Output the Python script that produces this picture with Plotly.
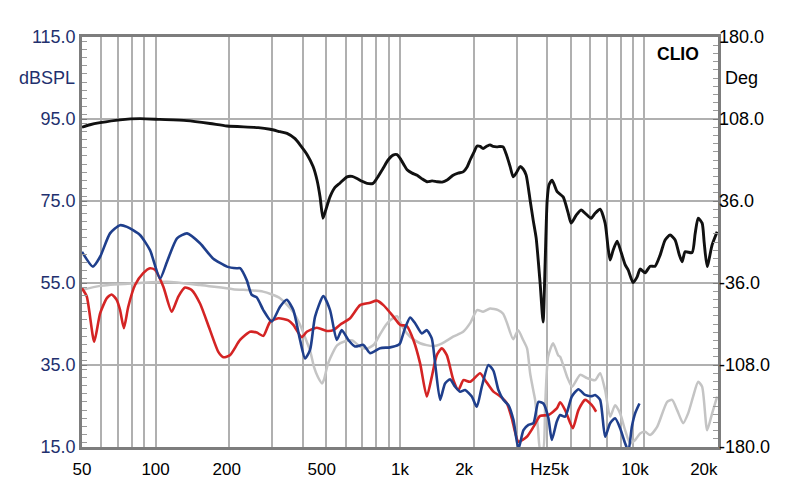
import plotly.graph_objects as go

# ---------------- data ----------------
black_f = [50, 53.9, 59.3, 71.5, 86.3, 104, 134, 167, 196, 263, 294, 323, 345, 372, 390, 417, 441, 458,
           471, 484, 498, 517, 542, 569, 607, 637, 667, 700, 733, 776, 806, 853, 894, 937, 973, 1001,
           1039, 1069, 1121, 1175, 1231, 1291, 1353, 1418, 1487, 1559, 1649, 1729, 1813, 1882, 1936,
           2010, 2068, 2127, 2188, 2272, 2337, 2404, 2496, 2568, 2642, 2717, 2822, 2903, 2987, 3101,
           3190, 3282, 3407, 3505, 3606, 3743, 3850, 3925, 4001, 4074, 4191, 4394, 4650, 4874, 5013,
           5255, 5508, 5773, 6053, 6285, 6588, 6905, 7104, 7239, 7447, 7733, 8030, 8337, 8577, 8991,
           9336, 9604, 10067, 10552, 11061, 11595, 12154, 12740, 13354, 13869, 14265, 14674, 15674,
           16124, 16587, 17223, 17551, 18055, 18923, 19837]
black_db = [93.0, 93.6, 94.1, 94.8, 95.1, 94.9, 94.6, 93.9, 93.3, 92.9, 92.5, 91.9, 91.5, 90.2, 88.7, 86.3,
            83.4, 80.0, 76.0, 70.8, 73.0, 76.0, 78.3, 79.4, 80.9, 81.0, 80.5, 79.8, 79.3, 79.3, 80.6,
            83.0, 85.0, 86.2, 86.3, 85.4, 83.8, 82.6, 81.8, 81.3, 80.4, 79.7, 79.9, 79.7, 79.6, 80.1,
            81.3, 81.8, 82.1, 83.3, 85.0, 87.0, 88.4, 88.3, 87.8, 88.4, 88.7, 88.3, 88.2, 88.3, 88.2,
            86.5, 83.4, 80.9, 81.8, 83.4, 82.8, 81.3, 75.2, 70.4, 66.0, 55.0, 45.5, 60.0, 75.2, 79.0,
            80.1, 77.3, 76.0, 72.1, 69.6, 71.5, 72.8, 71.8, 70.8, 72.0, 73.0, 69.6, 63.5, 60.6, 63.0,
            65.2, 62.5, 59.5, 58.2, 55.1, 56.5, 58.4, 57.5, 59.1, 59.1, 61.8, 65.5, 66.7, 65.5, 62.0,
            60.2, 62.6, 62.4, 67.0, 70.8, 69.6, 65.0, 59.0, 64.3, 67.5]

gray_f = [50, 59.3, 80.9, 111.4, 152, 207.4, 275.2, 323, 365.1, 390, 416.6, 428.6, 445, 462, 479.9, 489,
          503.5, 517, 552.7, 596, 637, 686.5, 733, 783, 829, 877, 911, 973, 1030, 1100, 1208.5, 1366,
          1487, 1649, 1813, 1936, 2068, 2188, 2337, 2520, 2642, 2743, 2903, 3043, 3190, 3312, 3407,
          3505, 3571, 3674, 3743, 3850, 3925, 4036, 4231, 4435, 4520, 4828, 5060, 5456, 5828, 6285,
          6588, 6905, 7239, 7588, 7954, 8337, 8740, 9161, 9604, 10067, 10552, 11272, 12386, 12982,
          13609, 14401, 15095, 15823, 16587, 17223, 18055, 18923, 19837]
gray_db = [53.3, 54.3, 54.9, 55.3, 54.5, 53.5, 52.9, 51.3, 48.0, 44.8, 40.5, 38.5, 34.5, 32.0, 30.5, 31.5,
           34.6, 36.5, 39.8, 40.8, 41.0, 39.5, 39.0, 40.0, 42.5, 44.8, 45.9, 46.9, 44.0, 41.9, 40.3,
           39.6, 40.3, 41.9, 43.1, 45.2, 48.4, 48.0, 48.8, 48.4, 47.5, 45.2, 41.3, 43.5, 41.1, 39.0,
           33.0, 29.0, 26.5, 19.1, 14.5, 14.5, 25.0, 37.0, 40.3, 37.4, 37.0, 32.1, 29.7, 32.6, 31.8,
           31.3, 33.0, 28.9, 22.4, 25.2, 23.2, 19.1, 15.9, 16.7, 18.3, 18.7, 17.9, 19.9, 26.0, 26.5,
           24.0, 20.8, 23.2, 27.3, 30.9, 29.7, 19.1, 23.2, 27.3]

red_f = [50, 52.3, 56.1, 59.3, 63.2, 66.1, 69.3, 71.5, 74.2, 77.3, 82.4, 89.0, 94.9, 99.5, 107.6, 116.4,
         123.9, 132, 140.5, 152, 167, 180.6, 189.3, 201.6, 221.6, 243.5, 259.4, 275.9, 294, 318, 349.3,
         366, 396.2, 415.4, 456.5, 501.6, 533.8, 568.6, 624.8, 686.5, 754.4, 803.5, 855.2, 939.7, 1001,
         1066, 1134.6, 1208.5, 1287, 1349, 1414, 1482, 1554, 1654, 1734, 1818, 1936, 2127, 2230, 2411,
         2568, 2735, 2867, 3052, 3303, 3515, 3743, 4048, 4381, 4520, 4738, 5094, 5370, 5719, 6092, 6345]
red_db = [53.7, 51.7, 40.7, 47.6, 51.3, 52.2, 50.9, 48.5, 44.0, 49.2, 54.5, 57.4, 58.6, 58.2, 54.1, 48.0,
          51.7, 53.9, 53.3, 50.0, 43.5, 38.2, 36.9, 37.4, 41.1, 43.1, 42.9, 42.1, 45.5, 46.4, 45.9,
          44.8, 41.8, 43.1, 44.1, 43.3, 43.5, 44.8, 46.4, 49.6, 50.2, 50.7, 49.6, 46.8, 44.8, 44.5,
          41.1, 35.4, 27.3, 32.1, 37.4, 39.1, 37.4, 31.3, 28.9, 31.3, 30.9, 33.0, 31.3, 28.5, 27.4,
          25.7, 22.0, 16.3, 17.5, 19.9, 22.6, 22.8, 24.4, 25.9, 24.0, 19.6, 24.0, 26.5, 25.2, 23.6]

blue_f = [50, 55.4, 59.3, 65.1, 71.5, 76.4, 86.3, 94.9, 104.3, 111.4, 122.4, 134.5, 152, 171.8, 196, 214.7,
          221.6, 236, 247.4, 259.4, 275.9, 298.7, 323, 344, 366, 390, 408.8, 428.6, 449.3, 485.8, 517.4,
          551.1, 577.7, 614.9, 654.9, 708.2, 754.4, 829, 911, 985, 1001, 1049, 1100, 1152.8, 1228, 1287,
          1349, 1392, 1459, 1529, 1603, 1681, 1762, 1847, 1967, 2062, 2161, 2300, 2411, 2527, 2649, 2777,
          2911, 3052, 3199, 3353, 3515, 3684, 3861, 4048, 4179, 4381, 4520, 4738, 5045, 5370, 5719, 6092,
          6285, 6588, 6905, 7239, 7588, 7954, 8337, 8602, 8880, 9161, 9542]
blue_db = [62.6, 59.0, 61.4, 67.1, 69.1, 68.7, 66.7, 63.0, 56.1, 60.2, 65.9, 67.1, 64.7, 61.0, 59.0, 58.6,
           58.6, 55.7, 52.1, 51.5, 48.4, 45.6, 49.2, 50.9, 48.4, 41.1, 36.6, 38.7, 46.8, 51.8, 48.4,
           41.1, 43.5, 41.1, 39.5, 39.9, 37.9, 39.1, 39.3, 39.9, 40.3, 44.0, 46.6, 45.2, 42.7, 43.5,
           41.5, 35.4, 26.5, 30.5, 31.5, 29.7, 28.5, 28.9, 27.3, 24.8, 29.7, 35.0, 33.6, 28.9, 26.5,
           25.2, 21.6, 14.5, 19.1, 20.4, 20.8, 26.0, 25.6, 22.0, 16.7, 21.2, 22.8, 22.4, 27.3, 29.1,
           27.7, 27.4, 27.7, 26.5, 17.5, 20.8, 22.0, 19.6, 15.9, 14.0, 19.9, 23.2, 25.6]

x_grid = [50, 60, 70, 80, 90, 100, 200, 300, 400, 500, 600, 700, 800, 900, 1000, 2000, 3000, 4000,
          5000, 6000, 7000, 8000, 9000, 10000, 20000]
NB = "\u00a0"
x_text = ["50", "", "", "", "", "100", "200" + NB, "", "", "500" + NB * 2, "", "", "", "", "1k", "2k" + NB * 4,
          "", "", "Hz5k" + NB * 9, "", "", "", "", "10k" + NB * 4, "20k" + NB * 6]

left_vals = [15, 35, 55, 75, 95, 115]
left_text = ["15.0", "35.0", "55.0", "75.0", "95.0", "115.0"]
right_vals = [-180, -108, -36, 36, 108, 180]
right_text = ["-180.0", "-108.0", "-36.0", "36.0", "108.0", "180.0"]

# ---------------- figure ----------------
NAVY = "#22306e"
FRAME = "#7d7d7d"
GRID = "#b0b0b0"
FONT = "Liberation Sans, Arial, sans-serif"

fig = go.Figure()
common = dict(mode="lines", line_shape="spline", hoverinfo="skip", showlegend=False)
fig.add_trace(go.Scatter(x=gray_f, y=gray_db, line=dict(color="#c4c4c4", width=2.5, smoothing=0.6), **common))
fig.add_trace(go.Scatter(x=red_f, y=red_db, line=dict(color="#d42424", width=2.6, smoothing=0.6), **common))
fig.add_trace(go.Scatter(x=blue_f, y=blue_db, line=dict(color="#1f3f8c", width=2.6, smoothing=0.6), **common))
fig.add_trace(go.Scatter(x=black_f, y=black_db, line=dict(color="#111111", width=2.9, smoothing=0.6), **common))
fig.add_trace(go.Scatter(x=[None], y=[None], yaxis="y2", **common))

fig.update_layout(
    width=800, height=504,
    margin=dict(l=82, r=82, t=37, b=57),
    paper_bgcolor="white", plot_bgcolor="white",
    font=dict(family=FONT, size=17, color="black"),
    xaxis=dict(
        type="log", range=[1.69897, 4.30103],
        tickmode="array", tickvals=x_grid, ticktext=x_text,
        showgrid=True, gridcolor=GRID, gridwidth=1.7,
        showline=True, linecolor=FRAME, linewidth=2.5, mirror=True,
        ticks="", ticklabelstandoff=5,
        tickfont=dict(size=17, color="black"), zeroline=False,
    ),
    yaxis=dict(
        range=[15, 115], tickmode="array", tickvals=left_vals, ticktext=left_text,
        showgrid=True, gridcolor=GRID, gridwidth=1.7,
        showline=True, linecolor=FRAME, linewidth=2.5, mirror=True,
        ticks="inside", ticklen=5, tickcolor=FRAME, tickwidth=1,
        minor=dict(ticks="inside", dtick=2, ticklen=5, tickcolor="#9a9a9a", tickwidth=1, showgrid=False),
        tickfont=dict(size=18, color=NAVY), zeroline=False,
    ),
    yaxis2=dict(
        range=[-180, 180], overlaying="y", side="right",
        tickmode="array", tickvals=right_vals, ticktext=right_text,
        showgrid=False, showline=False,
        ticks="inside", ticklen=5, tickcolor=FRAME, tickwidth=1,
        minor=dict(ticks="inside", dtick=7.2, ticklen=5, tickcolor="#9a9a9a", tickwidth=1, showgrid=False),
        tickfont=dict(size=18, color="black"), zeroline=False,
    ),
    annotations=[
        dict(text="dBSPL", xref="paper", x=0, xanchor="right", xshift=-5, yref="y", y=105,
             showarrow=False, font=dict(size=18, color=NAVY)),
        dict(text="Deg", xref="paper", x=1, xanchor="left", xshift=5, yref="y2", y=144,
             showarrow=False, font=dict(size=18, color="black")),
        dict(text="<b>CLIO</b>", xref="paper", x=1, xanchor="right", xshift=-17, yref="paper", y=1,
             yanchor="top", yshift=-5, showarrow=False, font=dict(size=17.5, color="black")),
    ],
)

fig.write_html("out.html")
